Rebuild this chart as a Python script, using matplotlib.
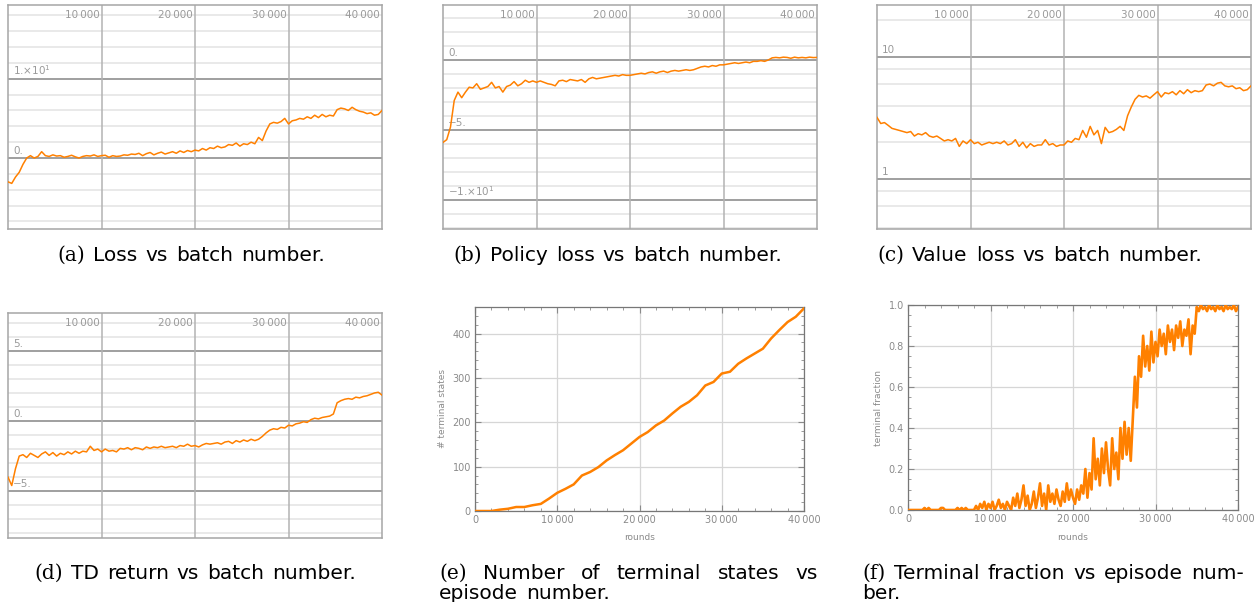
import numpy as np
import matplotlib.pyplot as plt
from matplotlib.ticker import MultipleLocator, FuncFormatter

# ---- data ----
loss = [-3.0, -3.2, -2.4, -1.8, -0.8, 0.0, 0.3, 0.0, 0.2, 0.8,
        0.3, 0.2, 0.4, 0.25, 0.3, 0.1, 0.2, 0.35, 0.15, 0.0,
        0.2, 0.3, 0.25, 0.4, 0.2, 0.3, 0.35, 0.1, 0.3, 0.2,
        0.25, 0.4, 0.35, 0.5, 0.45, 0.6, 0.3, 0.55, 0.7, 0.4,
        0.6, 0.75, 0.5, 0.65, 0.8, 0.6, 0.9, 0.7, 0.95, 0.8,
        1.0, 0.9, 1.2, 1.0, 1.3, 1.2, 1.5, 1.3, 1.4, 1.7,
        1.6, 1.9, 1.5, 1.8, 1.7, 2.0, 1.8, 2.6, 2.2, 3.4,
        4.3, 4.5, 4.4, 4.6, 5.0, 4.3, 4.7, 4.8, 5.0, 4.9,
        5.2, 5.0, 5.4, 5.1, 5.5, 5.2, 5.4, 5.3, 6.1, 6.3,
        6.2, 6.0, 6.4, 6.1, 5.9, 5.8, 5.6, 5.7, 5.4, 5.5, 6.0]

policy_loss = [-5.9, -5.7, -4.8, -2.9, -2.3, -2.7, -2.3, -1.95, -2.0, -1.7,
               -2.1, -2.0, -1.9, -1.6, -2.0, -1.9, -2.3, -1.9, -1.8, -1.55,
               -1.85, -1.7, -1.45, -1.6, -1.5, -1.6, -1.5, -1.6, -1.7, -1.75,
               -1.85, -1.5, -1.45, -1.55, -1.4, -1.45, -1.5, -1.4, -1.6, -1.35,
               -1.25, -1.35, -1.3, -1.25, -1.2, -1.15, -1.1, -1.15, -1.05, -1.1,
               -1.1, -1.05, -1.0, -0.95, -1.0, -0.9, -0.85, -0.95, -0.85, -0.8,
               -0.9, -0.8, -0.75, -0.8, -0.75, -0.7, -0.75, -0.7, -0.6, -0.5,
               -0.45, -0.5, -0.4, -0.45, -0.35, -0.35, -0.3, -0.25, -0.2, -0.25,
               -0.2, -0.15, -0.2, -0.1, -0.1, -0.05, -0.1, 0.0, 0.15, 0.18,
               0.15, 0.2, 0.18, 0.12, 0.2, 0.15, 0.18, 0.15, 0.2, 0.17, 0.18]

value_loss = [3.2, 2.85, 2.9, 2.75, 2.6, 2.55, 2.5, 2.45, 2.4, 2.45,
              2.25, 2.35, 2.3, 2.4, 2.25, 2.2, 2.25, 2.15, 2.05, 2.1,
              2.05, 2.15, 1.85, 2.05, 1.95, 2.1, 1.95, 2.0, 1.9, 1.95,
              2.0, 1.95, 2.0, 1.95, 2.05, 1.9, 1.95, 2.1, 1.85, 2.0,
              1.8, 1.95, 1.85, 1.9, 1.9, 2.1, 1.9, 1.95, 1.85, 1.9,
              1.9, 2.05, 2.0, 2.15, 2.1, 2.5, 2.2, 2.7, 2.3, 2.5,
              1.95, 2.65, 2.4, 2.45, 2.55, 2.7, 2.5, 3.3, 3.9, 4.5,
              4.85, 4.7, 4.8, 4.6, 4.9, 5.2, 4.7, 5.1, 5.0, 5.2,
              4.9, 5.3, 5.0, 5.4, 5.1, 5.3, 5.2, 5.3, 5.9, 6.0,
              5.8, 6.1, 6.2, 5.8, 5.7, 5.8, 5.5, 5.6, 5.3, 5.4, 5.8]

td_return = [-4.0, -4.6, -3.4, -2.5, -2.4, -2.6, -2.3, -2.45, -2.6, -2.35,
             -2.2, -2.45, -2.25, -2.5, -2.3, -2.4, -2.2, -2.35, -2.15, -2.3,
             -2.15, -2.2, -1.8, -2.1, -2.0, -2.2, -2.0, -2.15, -2.1, -2.2,
             -1.95, -2.0, -1.9, -2.05, -1.9, -1.95, -2.05, -1.85, -1.95, -1.85,
             -1.9, -1.8, -1.9, -1.85, -1.8, -1.9, -1.75, -1.8, -1.65, -1.8,
             -1.75, -1.85, -1.7, -1.6, -1.65, -1.6, -1.55, -1.65, -1.5, -1.45,
             -1.6, -1.4, -1.5, -1.35, -1.45, -1.3, -1.4, -1.3, -1.1, -0.85,
             -0.65, -0.55, -0.6, -0.45, -0.5, -0.3, -0.35, -0.2, -0.15, -0.05,
             -0.1, 0.1, 0.2, 0.15, 0.25, 0.3, 0.35, 0.5, 1.3, 1.45,
             1.55, 1.6, 1.55, 1.7, 1.65, 1.75, 1.8, 1.9, 2.0, 2.05, 1.85]

terminal_states = [0, 0, 0, 3, 5, 9, 9, 13, 16, 28, 41, 50, 60, 80, 88, 99, 114,
                   126, 137, 152, 167, 178, 193, 204, 220, 235, 246, 261, 283,
                   291, 310, 314, 332, 344, 355, 366, 389, 408, 426, 438, 457]

terminal_fraction = [0, 0, 0, 0, 0, 0, 0, 0, 0.01, 0,
                     0.01, 0, 0, 0, 0, 0, 0.01, 0.01, 0, 0,
                     0, 0, 0, 0, 0.01, 0, 0.01, 0, 0.01, 0,
                     0, 0, 0, 0.02, 0, 0.03, 0.01, 0.04, 0, 0.03,
                     0.01, 0.04, 0, 0.02, 0.05, 0.01, 0.03, 0, 0.04, 0.02,
                     0, 0.06, 0.02, 0.08, 0.01, 0.05, 0.12, 0.02, 0.07, 0,
                     0.03, 0.09, 0.01, 0.06, 0.13, 0.02, 0.08, 0, 0.12, 0.04,
                     0.08, 0.03, 0.1, 0.05, 0.02, 0.09, 0.04, 0.13, 0.05, 0.1,
                     0.06, 0.03, 0.1, 0.05, 0.12, 0.08, 0.2, 0.06, 0.18, 0.1,
                     0.35, 0.15, 0.25, 0.12, 0.3, 0.18, 0.33, 0.2, 0.12, 0.35,
                     0.2, 0.28, 0.15, 0.4, 0.25, 0.43, 0.27, 0.4, 0.24, 0.45,
                     0.65, 0.5, 0.75, 0.65, 0.85, 0.7, 0.8, 0.68, 0.87, 0.72,
                     0.82, 0.75, 0.88, 0.8, 0.86, 0.76, 0.9, 0.82, 0.88, 0.78,
                     0.9, 0.84, 0.92, 0.8, 0.88, 0.85, 0.93, 0.76, 0.9, 0.86,
                     0.99, 0.97, 1.0, 0.98, 0.99, 0.97, 1.0, 0.98, 0.99, 0.97,
                     1.0, 0.98, 0.99, 0.97, 1.0, 0.98, 0.99, 0.98, 1.0, 0.97, 0.99]

x_ticks = [10000, 20000, 30000, 40000]
x_labels = ['10\u2009000', '20\u2009000', '30\u2009000', '40\u2009000']

W, H = 1254, 602
ORANGE = '#ff8000'
fig = plt.figure(figsize=(W / 100, H / 100), dpi=100)


def box(x0, y0, x1, y1):
    return [x0 / W, 1 - y1 / H, (x1 - x0) / W, (y1 - y0) / H]


def xs(vals):
    return np.linspace(0, 40000, len(vals))


def grid_panel(rect, vals, ylim, major, minor, ylabels, log=False):
    ax = fig.add_axes(rect)
    if log:
        ax.set_yscale('log')
    ax.plot(xs(vals), vals, color=ORANGE, lw=1.1, zorder=5)
    ax.set_xlim(0, 40000)
    ax.set_ylim(*ylim)
    ax.set_xticks([])
    ax.set_yticks([])
    ax.minorticks_off()
    for m in minor:
        ax.axhline(m, color='#e3e3e3', lw=1.1, zorder=1)
    for m in major:
        ax.axhline(m, color='#858585', lw=1.1, zorder=2)
    for v in x_ticks[:-1]:
        ax.axvline(v, color='#b3b3b3', lw=1.1, zorder=2)
    for s in ax.spines.values():
        s.set_color('#a6a6a6')
        s.set_linewidth(1.1)
    for v, lbl in zip(x_ticks, x_labels):
        ax.annotate(lbl, xy=(v, 1), xycoords=ax.get_xaxis_transform(),
                    xytext=(-2, -10), textcoords='offset pixels',
                    ha='right', va='center', fontsize=7.5, color='#9a9a9a')
    for v, lbl in zip(major, ylabels):
        ax.annotate(lbl, xy=(0, v), xycoords=ax.get_yaxis_transform(),
                    xytext=(5, 2), textcoords='offset pixels',
                    ha='left', va='bottom', fontsize=7.5, color='#9a9a9a')
    return ax


grid_panel(box(8, 5, 382, 229), loss, (-8.95, 19.3), [0, 10],
           [-8, -6, -4, -2, 2, 4, 6, 8, 12, 14, 16, 18],
           ['0.', '1.\u00d710$^{1}$'])
grid_panel(box(443, 5, 817, 229), policy_loss, (-12.09, 3.93), [0, -5, -10],
           [3, 2, 1, -1, -2, -3, -4, -6, -7, -8, -9, -11, -12],
           ['0.', '\u22125.', '\u22121.\u00d710$^{1}$'])
grid_panel(box(877, 5, 1251, 229), value_loss, (0.389, 26.7), [1, 10],
           [0.4, 0.6, 0.8, 2, 4, 6, 8, 20], ['1', '10'], log=True)
grid_panel(box(8, 313, 382, 538), td_return, (-8.34, 7.7), [5, 0, -5],
           [7, 6, 4, 3, 2, 1, -1, -2, -3, -4, -6, -7, -8],
           ['5.', '0.', '\u22125.'])


def frame_panel(rect, x, vals, ylim, ymaj, ymin, ylabel, yfmt, lw):
    ax = fig.add_axes(rect)
    ax.plot(x, vals, color=ORANGE, lw=lw, zorder=5)
    ax.set_xlim(0, 40000)
    ax.set_ylim(*ylim)
    ax.xaxis.set_major_locator(MultipleLocator(10000))
    ax.xaxis.set_minor_locator(MultipleLocator(2000))
    ax.yaxis.set_major_locator(MultipleLocator(ymaj))
    ax.yaxis.set_minor_locator(MultipleLocator(ymin))
    ax.xaxis.set_major_formatter(FuncFormatter(
        lambda v, p: '0' if v == 0 else '%d\u2009000' % (v // 1000)))
    ax.yaxis.set_major_formatter(FuncFormatter(yfmt))
    ax.tick_params(which='both', direction='in', top=True, right=True,
                   color='#8a8a8a', labelcolor='#8a8a8a', labelsize=7, pad=3)
    ax.tick_params(which='major', length=4, width=0.8)
    ax.tick_params(which='minor', length=2, width=0.6)
    ax.grid(True, which='major', color='#d6d6d6', lw=0.9)
    for s in ax.spines.values():
        s.set_color('#777777')
        s.set_linewidth(0.9)
    ax.set_xlabel('rounds', fontsize=6.5, color='#8a8a8a', labelpad=6)
    ax.set_ylabel(ylabel, fontsize=6.5, color='#8a8a8a', labelpad=4)
    return ax


frame_panel(box(475, 307, 804, 511), np.linspace(0, 40000, len(terminal_states)),
            terminal_states, (0, 460), 100, 20, '# terminal states',
            lambda v, p: '%d' % v, 1.8)
frame_panel(box(908, 305, 1238, 510), xs(terminal_fraction), terminal_fraction,
            (0, 1), 0.2, 0.05, 'terminal fraction',
            lambda v, p: '%.1f' % v, 1.9)

# ---- captions ----
renderer = fig.canvas.get_renderer()


def caption_line(x0, y, words, x1=None, justify=True, size=14.5):
    items = []
    for w in words:
        fam = 'DejaVu Serif' if w.startswith('(') else 'DejaVu Sans'
        items.append(fig.text(0, 1 - y / H, w, fontsize=size, family=fam,
                              va='baseline', ha='left', color='black'))
    widths = [t.get_window_extent(renderer).width for t in items]
    gap = size * 100 / 72 * 0.4
    if x1 is not None and justify:
        gap = (x1 - x0 - sum(widths)) / max(len(items) - 1, 1)
    elif x1 is not None:
        total = sum(widths) + gap * (len(items) - 1)
        x0 = (x0 + x1 - total) / 2
    pos = x0
    for t, w in zip(items, widths):
        t.set_x(pos / W)
        pos += w + gap


caption_line(60, 261, ['(a)', 'Loss', 'vs', 'batch', 'number.'], 322, False)
caption_line(438, 261, ['(b)', 'Policy', 'loss', 'vs', 'batch', 'number.'], 797, False)
caption_line(852, 261, ['(c)', 'Value', 'loss', 'vs', 'batch', 'number.'], 1227, False)
caption_line(24, 579, ['(d)', 'TD', 'return', 'vs', 'batch', 'number.'], 366, False)
caption_line(439, 579, ['(e)', 'Number', 'of', 'terminal', 'states', 'vs'], 818)
caption_line(439, 599, ['episode', 'number.'])
caption_line(862, 579, ['(f)', 'Terminal', 'fraction', 'vs', 'episode', 'num-'], 1244)
caption_line(862, 599, ['ber.'])

fig.savefig('out.png', dpi=100)
